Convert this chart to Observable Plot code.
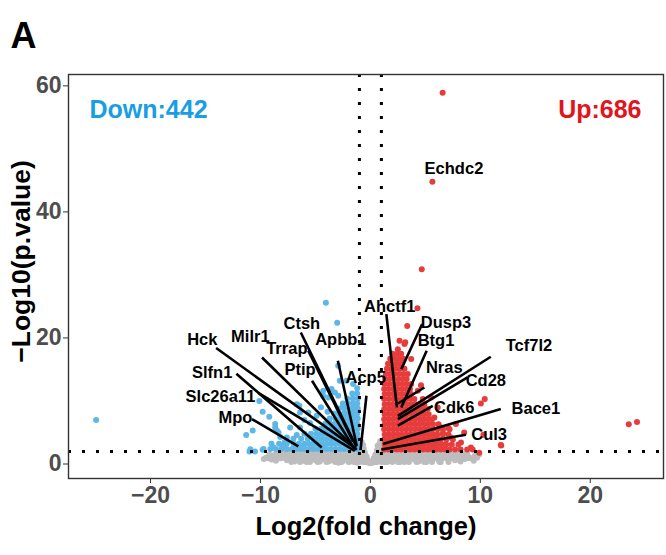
<!DOCTYPE html>
<html>
<head>
<meta charset="utf-8">
<script src="https://cdn.jsdelivr.net/npm/d3@7"></script>
<script src="https://cdn.jsdelivr.net/npm/@observablehq/plot@0.6"></script>
<style>
  html, body { margin: 0; padding: 0; background: #fff; }
  #chart svg { display: block; }
</style>
</head>
<body>
<div id="chart"></div>
<script>
// ---- data (log2 fold change, -log10 p value) ----
const downCount = 442;
const upCount = 686;
const pThreshold = 2;
const fcThreshold = [-1, 1];
const xTicks = [-20, -10, 0, 10, 20];
const yTicks = [0, 20, 40, 60];

const notSig = [
  [-9.5,1.0],[-9.0,0.7],[-8.8,1.4],[-8.3,0.9],[-8.0,1.6],[-7.6,0.6],[-7.3,1.2],[-7.0,1.8],[-6.7,0.8],[-6.4,1.4],
  [-6.1,0.5],[-5.9,1.9],[-5.6,1.0],[-5.3,1.6],[-5.0,0.6],[-4.8,1.2],[-4.5,1.9],[-4.3,0.8],[-4.0,1.5],[-3.8,0.4],
  [-3.6,1.1],[-3.3,1.8],[-3.1,0.7],[-2.9,1.4],[-2.7,2.0],[-2.5,0.5],[-2.3,1.1],[-2.1,1.7],[-1.9,0.3],[-1.7,0.9],
  [-1.5,1.5],[-1.3,2.1],[-1.1,0.6],[-1.0,1.2],
  [-0.9,2.0],[-0.85,2.8],[-0.8,3.5],[-0.75,0.4],[-0.7,1.4],[-0.6,2.4],[-0.55,0.8],[-0.5,1.8],[-0.4,0.3],[-0.35,1.2],
  [-0.25,0.6],[-0.15,0.2],[0,0.1],[0.1,0.4],[0.2,0.2],[0.3,0.9],[0.4,0.5],[0.45,1.5],[0.55,0.7],[0.6,2.2],
  [0.7,1.1],[0.75,3.0],[0.8,0.5],[0.85,1.8],[0.9,3.6],[0.95,2.5],
  [1.1,0.7],[1.2,1.4],[1.4,2.0],[1.6,0.4],[1.8,1.0],[2.0,1.7],[2.2,0.6],[2.4,1.3],[2.6,2.0],[2.8,0.8],
  [3.0,1.5],[3.3,0.5],[3.5,1.1],[3.7,1.8],[4.0,0.7],[4.2,1.4],[4.5,1.9],[4.8,0.6],[5.0,1.2],[5.3,1.7],
  [5.6,0.8],[5.9,1.4],[6.2,0.6],[6.5,1.2],[6.8,1.7],[7.1,0.8],[7.4,1.3],[7.7,0.6],[8.0,1.1],[8.3,1.5],
  [8.6,0.8],[8.9,1.2],[9.2,0.9],[9.5,1.3],[9.7,1.0],
  [-9.2,1.5],[-8.6,0.5],[-8.1,1.2],[-7.5,1.9],[-6.9,0.4],[-6.3,1.0],[-5.8,0.3],[-5.2,1.3],[-4.6,0.4],[-4.1,1.9],
  [-3.5,0.6],[-2.9,0.2],[-2.4,1.6],[-1.8,1.2],[-1.2,0.2],[-0.95,3.2],[-0.9,1.0],[-0.65,3.0],[-0.5,0.4],[0.5,0.3],
  [0.65,2.9],[0.95,1.0],[0.98,3.3],[1.3,0.3],[1.9,0.5],[2.5,0.3],[3.1,0.3],[3.8,1.0],[4.4,0.4],[5.1,0.3],
  [5.8,1.9],[6.4,0.3],[7.0,1.4],[7.6,1.0],[8.2,0.4],[8.8,1.7],[9.4,0.5],[-9.7,0.8],[9.9,1.5]
];
// dense band of non-significant genes, rows of [y, x values]
const notSigCore = [
  [0.9, [-9.35,-8.95,-8.55,-8.15,-7.75,-7.35,-6.95,-6.55,-6.15,-5.75,-5.35,-4.95,-4.55,-4.15,-3.75,-3.35,-2.95,-2.55,-2.15,-1.75,-1.35,
         1.35,1.75,2.15,2.55,2.95,3.35,3.75,4.15,4.55,4.95,5.35,5.75,6.15,6.55,6.95,7.35,7.75,8.15,8.55,8.95,9.35]],
  [1.6, [-8.6,-8.2,-7.8,-7.4,-6.95,-6.55,-6.15,-5.75,-5.35,-4.95,-4.55,-4.15,-3.75,-3.35,-2.95,-2.55,-2.15,-1.75,-1.35,
         1.35,1.75,2.15,2.55,2.95,3.35,3.75,4.15,4.55,4.95,5.35,5.75,6.15,6.55,6.95,7.35,7.75,8.15,8.6]],
  [0.3, [-7.2,-6.4,-5.5,-4.8,-4.0,-3.2,-2.6,-2.0,-1.5,-1.0,-0.6,0.6,1.0,1.5,2.0,2.7,3.5,4.2,4.9,5.6,6.3,7.1]]
];

const down = [
  [-24.95,7.0],[-4.05,25.6],[-3.02,22.4],[-2.93,15.6],[-2.17,13.2],[-2.78,13.2],[-1.57,12.68],
  [-10.1,10.0],[-9.8,8.3],[-9.2,7.5],[-10.7,5.3],[-11.3,4.6],[-11.0,2.0],[-10.5,2.0],[-9.8,2.25],
  [-10.92,2.36],[-9.72,2.4],[-8.81,2.62],[-7.91,2.89],[-6.85,3.05],[-6.1,2.62],[-5.19,2.89],[-4.29,2.73],
  [-6.46,9.24],[-6.7,9.5],[-6.4,8.17],[-5.65,8.17],[-4.89,7.65],[-4.29,11.62],[-4.29,10.83],[-3.84,10.56],
  [-3.53,11.9],[-3.23,11.35],[-2.93,10.83],[-2.48,9.24],
  [-8.66,5.79],[-8.66,6.33],[-8.5,5.27],[-8.36,5.0],[-7.6,4.2],[-7.3,5.79],[-6.4,5.79],[-5.5,6.5],[-6.0,7.0],
  [-4.5,9.0],[-3.9,8.3],[-7.8,3.5],[-8.2,4.3],[-9.0,3.2],[-6.7,4.6]
];
// dense core of down-regulated genes, rows of [y, x values]
const downCore = [
  [2.4, [-1.15,-1.55,-1.95,-2.35,-2.75,-3.15,-3.55,-3.95,-4.35,-4.75,-5.15,-5.55,-5.95,-6.35,-6.75,-7.15,-7.6,-8.1,-8.6,-9.1]],
  [3.2, [-1.2,-1.6,-2.0,-2.4,-2.8,-3.2,-3.6,-4.0,-4.4,-4.8,-5.2,-5.6,-6.0,-6.5,-7.0,-7.6,-8.3]],
  [4.0, [-1.15,-1.55,-1.95,-2.35,-2.75,-3.15,-3.55,-3.95,-4.35,-4.75,-5.2,-5.7,-6.3,-7.0]],
  [4.8, [-1.2,-1.6,-2.0,-2.4,-2.8,-3.2,-3.6,-4.0,-4.45,-4.9,-5.4,-6.0]],
  [5.6, [-1.15,-1.55,-1.95,-2.35,-2.75,-3.15,-3.6,-4.05,-4.5,-5.0]],
  [6.4, [-1.2,-1.6,-2.0,-2.4,-2.8,-3.2,-3.65,-4.1]],
  [7.2, [-1.15,-1.55,-1.95,-2.35,-2.75,-3.2,-3.7]],
  [8.0, [-1.2,-1.6,-2.0,-2.4,-2.85,-3.3]],
  [8.8, [-1.15,-1.55,-1.95,-2.4,-2.9]],
  [9.6, [-1.2,-1.6,-2.05,-2.5]],
  [10.4, [-1.15,-1.6,-2.1]],
  [11.2, [-1.2,-1.65]],
  [12.0, [-1.2]]
];

const up = [
  [6.57,58.9],[5.64,44.8],[4.67,30.9],[4.28,24.7],[3.35,21.9],[3.17,19.3],[2.5,18.2],
  [23.5,6.3],[24.25,6.65],[11.9,2.95],[9.9,1.8],
  [2.65,19.56],[3.1,19.03],[3.71,16.65],[3.4,14.27],[3.71,12.68],[4.31,11.62],[4.76,10.3],[4.6,12.5],
  [5.52,10.56],[6.12,8.97],[5.21,8.71],[5.82,7.38],[6.43,5.79],[7.33,4.2],[8.24,3.41],[7.78,6.33],[8.53,5.0],
  [7.09,5.7],[10.28,4.63],[10.05,9.6],[10.4,10.3],[11.86,3.0],[9.14,2.62],[7.2,5.5],[6.6,4.9]
];
// dense core of up-regulated genes, rows of [y, x values]
const upCore = [
  [2.3, [1.25,1.6,2.0,2.4,2.8,3.2,3.6,4.0,4.4,4.8,5.2,5.6,6.0,6.4,6.8,7.2,7.7,8.2,8.8,9.3]],
  [3.1, [1.3,1.7,2.1,2.5,2.9,3.3,3.7,4.1,4.5,4.9,5.3,5.7,6.1,6.5,6.9,7.4,8.0]],
  [3.9, [1.25,1.65,2.05,2.45,2.85,3.25,3.65,4.05,4.45,4.85,5.25,5.65,6.0,6.4,6.9,7.5]],
  [4.7, [1.3,1.7,2.1,2.5,2.9,3.3,3.7,4.1,4.5,4.9,5.3,5.7,6.1,6.6,7.1]],
  [5.5, [1.25,1.65,2.05,2.45,2.85,3.25,3.65,4.05,4.45,4.85,5.25,5.65,6.1,6.6]],
  [6.3, [1.3,1.7,2.1,2.5,2.9,3.3,3.7,4.1,4.5,4.9,5.3,5.7,6.2]],
  [7.1, [1.25,1.65,2.05,2.45,2.85,3.25,3.65,4.05,4.45,4.8,5.2,5.6]],
  [7.9, [1.3,1.7,2.1,2.5,2.9,3.3,3.7,4.1,4.5,4.9,5.3]],
  [8.7, [1.25,1.65,2.05,2.45,2.85,3.25,3.65,4.05,4.4,4.8]],
  [9.5, [1.3,1.7,2.1,2.5,2.9,3.3,3.7,4.1,4.5,4.9]],
  [10.3, [1.25,1.65,2.05,2.45,2.85,3.25,3.65,4.0]],
  [11.1, [1.3,1.7,2.1,2.5,2.9,3.3,3.7]],
  [11.9, [1.25,1.65,2.05,2.45,2.85,3.25,3.6]],
  [12.7, [1.3,1.7,2.1,2.5,2.9,3.3]],
  [13.5, [1.35,1.75,2.15,2.55,2.95,3.3]],
  [14.3, [1.4,1.8,2.2,2.6,3.0]],
  [15.1, [1.5,1.9,2.3,2.7,3.1]],
  [15.9, [1.6,2.0,2.4,2.8]],
  [16.7, [1.8,2.2,2.6,3.0]],
  [17.5, [2.0,2.4,2.8]]
];

// labelled genes: point (gx, gy), label text position (lx, ly), segment start (sx, sy)
const geneNames = ["Hck","Milr1","Trrap","Ctsh","Apbb1","Ptip","Acp5","Slfn1","Slc26a11","Mpo",
                   "Ahctf1","Dusp3","Btg1","Tcf7l2","Nras","Cd28","Cdk6","Bace1","Cul3","Echdc2"];
const genePoint = [[-1.3,2.4],[-1.24,2.25],[-1.57,3.54],[-1.27,2.73],[-1.24,2.89],[-1.51,2.57],[-0.9,2.2],
                   [-4.43,2.62],[-1.42,2.1],[-6.55,2.78],
                   [2.41,8.97],[2.81,15.06],[2.81,8.97],[2.5,7.65],[2.5,9.6],[2.5,7.13],[2.5,6.07],[1.14,3.16],[1.0,2.3],[5.64,44.8]];
const labelPos = [[-15.29,19.67],[-10.92,20.19],[-7.6,18.24],[-6.24,22.21],[-2.69,19.67],[-6.4,14.9],[-0.43,13.68],
                  [-14.39,14.52],[-13.64,10.67],[-12.28,7.29],
                  [1.75,24.95],[6.88,22.4],[5.97,19.5],[14.42,18.76],[6.72,15.22],[10.5,13.21],[7.63,8.97],[15.05,8.76],[10.8,4.63],[7.6,46.9]];
const segStart = [[-14.03,18.4],[-9.86,16.9],[-5.65,17.97],[-6.33,20.87],[-2.96,16.38],[-5.31,13.21],[-0.36,10.83],
                  [-12.19,14.32],[-10.2,11.3],[-10.77,7.13],
                  [1.45,23.79],[4.71,22.21],[5.12,17.97],[10.95,17.02],[4.91,12.14],[8.83,13.73],[5.67,9.24],[11.86,8.71],[8.69,4.63],null];

const expand = rows => rows.flatMap(([y, xs]) => xs.map(x => [x, y]));
const notSigAll = expand(notSigCore).concat(notSig);
const downAll = down.concat(expand(downCore));
const upAll = up.concat(expand(upCore));

const labels = geneNames.map((name, i) => ({
  name,
  gx: genePoint[i][0], gy: genePoint[i][1],
  lx: labelPos[i][0], ly: labelPos[i][1],
  sx: segStart[i] ? segStart[i][0] : null, sy: segStart[i] ? segStart[i][1] : null
}));
const links = labels.filter(d => d.sx !== null);

const FONT = "'Liberation Sans', Arial, Helvetica, sans-serif";

const chart = Plot.plot({
  width: 666,
  height: 555,
  marginLeft: 68,
  marginRight: 3,
  marginTop: 74,
  marginBottom: 77,
  style: { fontFamily: FONT, background: "#fff" },
  x: { domain: [-27.46, 26.66] },
  y: { domain: [-2.3, 61.8] },
  marks: [
    Plot.dot(notSigAll, { x: d => d[0], y: d => d[1], r: 3, fill: "#bdbdbd" }),
    Plot.dot(downAll, { x: d => d[0], y: d => d[1], r: 3, fill: "#5cb6e6" }),
    Plot.dot(upAll, { x: d => d[0], y: d => d[1], r: 3, fill: "#e73c3c" }),
    Plot.ruleX(fcThreshold, { stroke: "#000", strokeWidth: 3, strokeDasharray: "3,11" }),
    Plot.ruleY([pThreshold], { stroke: "#000", strokeWidth: 3, strokeDasharray: "3,11" }),
    Plot.link(links, { x1: "sx", y1: "sy", x2: "gx", y2: "gy", stroke: "#000", strokeWidth: 2.6 }),
    Plot.text(labels, { x: "lx", y: "ly", text: "name", fontSize: 16.5, fontWeight: "bold", fill: "#000" }),
    Plot.frame({ stroke: "#333", strokeWidth: 1.4 }),
    Plot.axisX({ ticks: xTicks, tickSize: 5, tickPadding: 3, fontSize: 23, fontWeight: "bold",
                 fill: "#4d4d4d", stroke: "#333", label: null, tickFormat: d => d < 0 ? "\u2212" + Math.abs(d) : String(d) }),
    Plot.axisY({ ticks: yTicks, tickSize: 5, tickPadding: 2, fontSize: 23, fontWeight: "bold",
                 fill: "#4d4d4d", stroke: "#333", label: null }),
    Plot.text(["Log2(fold change)"], { frameAnchor: "bottom", dy: 56, fontSize: 25.5, fontWeight: "bold", fill: "#000" }),
    Plot.text(["\u2212Log10(p.value)"], { frameAnchor: "left", dx: -47, dy: -15, rotate: -90, textAnchor: "middle", fontSize: 26.5, fontWeight: "bold", fill: "#000" }),
    Plot.text([`Down:${downCount}`], { frameAnchor: "top-left", dx: 21, dy: 26, textAnchor: "start", fontSize: 25, fontWeight: "bold", fill: "#1a9ee3" }),
    Plot.text([`Up:${upCount}`], { frameAnchor: "top-right", dx: -22, dy: 26, textAnchor: "end", fontSize: 25, fontWeight: "bold", fill: "#e2141c" }),
    Plot.text(["A"], { frameAnchor: "top-left", dx: -58, dy: -52, textAnchor: "start", fontSize: 36, fontWeight: "bold", fill: "#000" })
  ]
});
document.getElementById("chart").appendChild(chart);
</script>
</body>
</html>
